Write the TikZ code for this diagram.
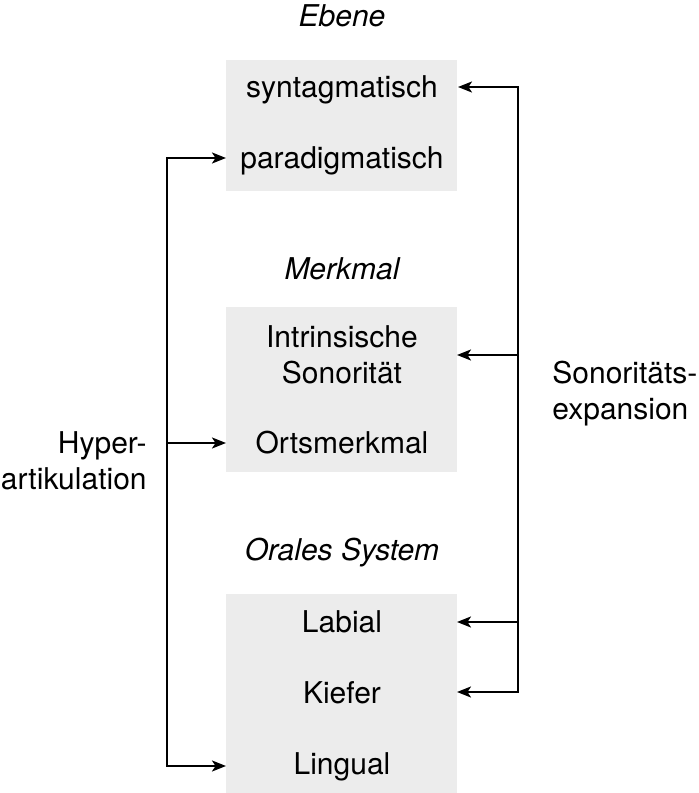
\documentclass[tikz,border=0pt]{standalone}
\usepackage{fontspec}
\setmainfont{TeX Gyre Heros}
\usetikzlibrary{arrows.meta,positioning}
\tikzset{
   level box/.style={fill=gray!15, inner sep=0pt, outer sep=0pt},
   entry/.style={font=\fontsize{15}{18}\selectfont, inner sep=0pt, anchor=base},
   level title/.style={entry, font=\fontsize{15}{18}\selectfont\itshape},
   side label/.style={entry, align=#1, anchor=base},
   wire/.style={line width=1.15pt, line join=miter},
   link/.style={wire, -{Stealth[length=7pt,width=5.5pt,inset=1.8pt]}},
   link both/.style={wire, {Stealth[length=7pt,width=5.5pt,inset=1.8pt]}-{Stealth[length=7pt,width=5.5pt,inset=1.8pt]}}
}
\begin{document}
\begin{tikzpicture}[x=0.5pt, y=-0.5pt]
  \useasboundingbox (0,0) rectangle (698,793);
  % grey boxes
  \node[level box, minimum width=115.5pt, minimum height=65.5pt] (ebene) at (341.5,125.5) {};
  \node[level box, minimum width=115.5pt, minimum height=82.5pt] (merkmal) at (341.5,389.5) {};
  \node[level box, minimum width=115.5pt, minimum height=99.5pt] (system) at (341.5,693.5) {};
  % titles
  \node[level title] (t1) at (342,26) {Ebene};
  \node[level title] (t2) at (342,279) {Merkmal};
  \node[level title] (t3) at (342,560) {Orales System};
  % entries
  \node[entry] (syn) at (342,97) {syntagmatisch};
  \node[entry] (par) at (342,168) {paradigmatisch};
  \node[entry] (intr) at (342,347) {Intrinsische};
  \node[entry] (sono) at (342,383) {Sonorität};
  \node[entry] (orts) at (342,453) {Ortsmerkmal};
  \node[entry] (lab) at (342,632) {Labial};
  \node[entry] (kief) at (342,703) {Kiefer};
  \node[entry] (ling) at (342,774) {Lingual};
  % side labels
  \node[side label=right, anchor=base east] (hyper) at (147,489) {Hyper-\\artikulation};
  \node[side label=left, anchor=base west] (expan) at (552,419) {Sonoritäts-\\expansion};
  % Hyperartikulation
  \coordinate (hy1) at (167,158);
  \coordinate (hy2) at (167,443);
  \coordinate (hy3) at (167,766);
  \draw[link both] (ebene.west |- hy1) -- (hy1) -- (hy3) -- (system.west |- hy3);
  \draw[link] (hy2) -- (merkmal.west |- hy2);
  % Sonoritaetsexpansion
  \coordinate (so1) at (518,87);
  \coordinate (so2) at (518,355);
  \coordinate (so3) at (518,622);
  \coordinate (so4) at (518,692);
  \draw[link both] ([xshift=0.5pt]ebene.east |- so1) -- (so1) -- (so4) -- (system.east |- so4);
  \draw[link] (so2) -- (merkmal.east |- so2);
  \draw[link] (so3) -- (system.east |- so3);
\end{tikzpicture}
\end{document}
